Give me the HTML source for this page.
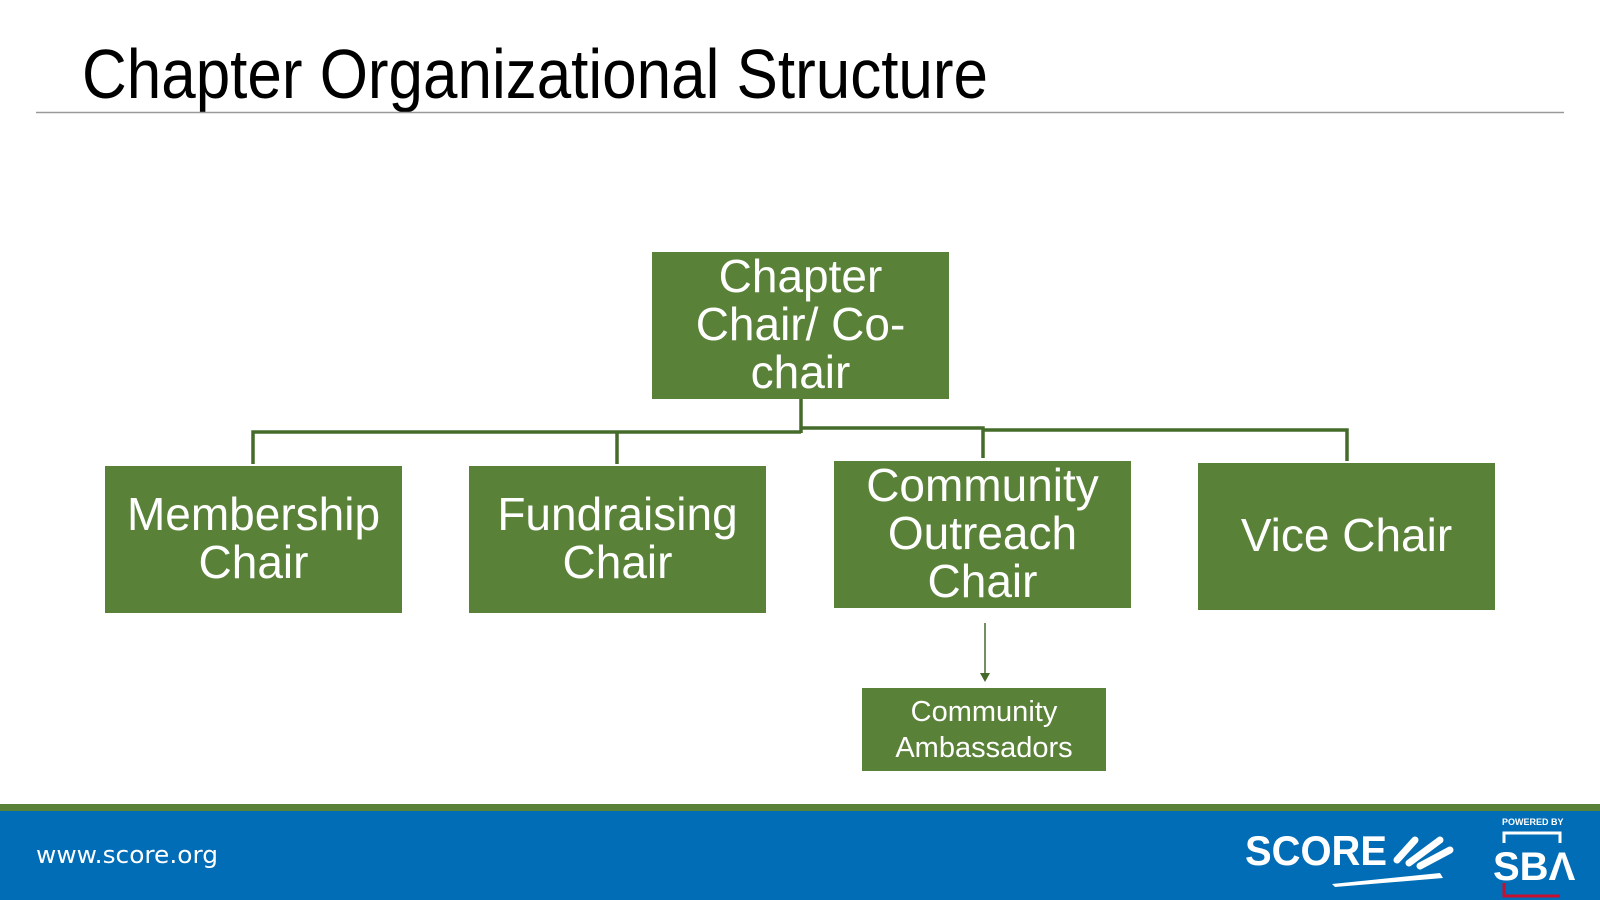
<!DOCTYPE html>
<html><head><meta charset="utf-8"><style>
body{margin:0;width:1600px;height:900px;overflow:hidden;background:#fff;font-family:"Liberation Sans",sans-serif}
.b{position:absolute;background:#5a8138;color:#fff;display:flex;align-items:center;justify-content:center;text-align:center;font-size:46px;line-height:48px;box-sizing:border-box;padding-bottom:4px}
</style></head><body>
<svg width="1600" height="900" style="position:absolute;left:0;top:0">
<text x="82" y="98" font-family="Liberation Sans, sans-serif" font-size="70" textLength="906" lengthAdjust="spacingAndGlyphs" fill="#000">Chapter Organizational Structure</text>
<line x1="36" y1="112.5" x2="1564" y2="112.5" stroke="#999" stroke-width="1.5"/>
<g stroke="#456b2a" stroke-width="3.5" fill="none">
<line x1="801" y1="399" x2="801" y2="433"/>
<polyline points="801,432 253,432 253,464"/>
<line x1="617" y1="432" x2="617" y2="464"/>
<polyline points="801,428 983,428 983,458"/>
<polyline points="983,430 1347,430 1347,461"/>
</g>
<line x1="985" y1="623" x2="985" y2="675" stroke="#456b2a" stroke-width="1.5"/>
<polygon points="980,673 990,673 985,682" fill="#456b2a"/>
<rect x="0" y="804" width="1600" height="8" fill="#5a8138"/>
<rect x="0" y="811" width="1600" height="89" fill="#006db6"/>
<text x="36" y="863" font-family="DejaVu Sans, sans-serif" font-size="24" fill="#fff" textLength="182" lengthAdjust="spacingAndGlyphs">www.score.org</text>
<text x="1245" y="865" font-family="Liberation Sans, sans-serif" font-weight="bold" font-size="42" fill="#fff" textLength="142" lengthAdjust="spacingAndGlyphs">SCORE</text>
<g stroke="#fff" stroke-width="7" stroke-linecap="round"><line x1="1397" y1="860" x2="1415" y2="840"/><line x1="1409" y1="863" x2="1440" y2="840"/><line x1="1420" y1="866" x2="1450" y2="850"/></g>
<polygon points="1332,884 1440,873 1443,878 1335,887" fill="#fff"/>
<text x="1502" y="825" font-family="Liberation Sans, sans-serif" font-weight="bold" font-size="9" fill="#fff">POWERED BY</text>
<polyline points="1504,843 1504,833 1560,833 1560,843" stroke="#fff" stroke-width="3" fill="none"/>
<text x="1493" y="880" font-family="Liberation Sans, sans-serif" font-weight="bold" font-size="40" fill="#fff">SBΛ</text>
<polyline points="1504,883 1504,896 1560,896" stroke="#c8102e" stroke-width="3" fill="none"/>
</svg>
<div class="b" style="left:652px;top:252px;width:297px;height:147px">Chapter<br>Chair/ Co-<br>chair</div>
<div class="b" style="left:105px;top:466px;width:297px;height:147px">Membership<br>Chair</div>
<div class="b" style="left:469px;top:466px;width:297px;height:147px">Fundraising<br>Chair</div>
<div class="b" style="left:834px;top:461px;width:297px;height:147px">Community<br>Outreach<br>Chair</div>
<div class="b" style="left:1198px;top:463px;width:297px;height:147px">Vice Chair</div>
<div class="b" style="left:862px;top:688px;width:244px;height:83px;font-size:29px;line-height:36px;padding-bottom:0">Community<br>Ambassadors</div>
</body></html>
